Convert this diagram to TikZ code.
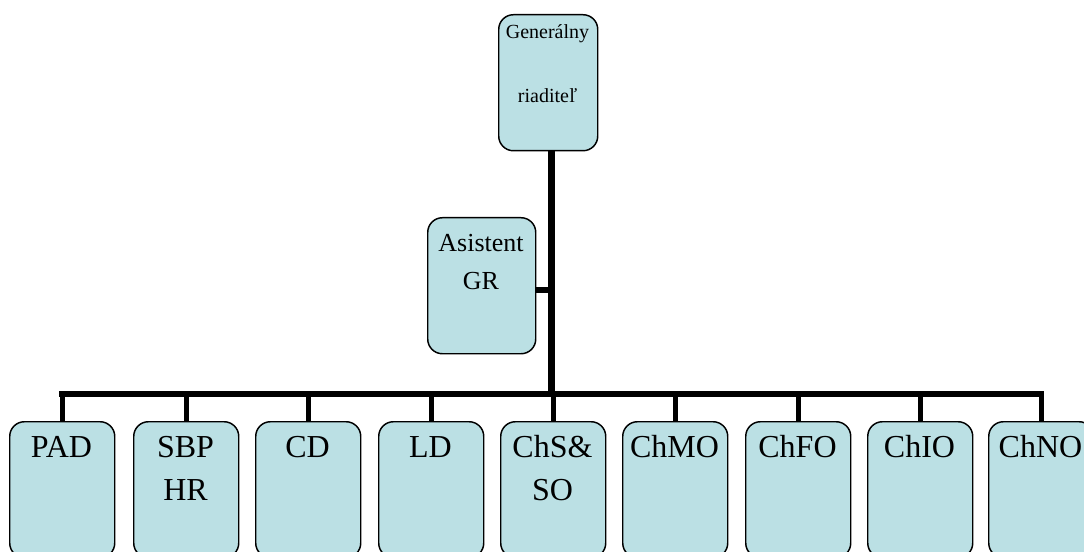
\documentclass[tikz,border=0pt]{standalone}
\usepackage{fontspec}
\setmainfont{Liberation Serif}
\definecolor{boxfill}{RGB}{187,224,228}
\begin{document}
\begin{tikzpicture}[x=0.75pt,y=-0.75pt,
  orgbox/.style={draw=black, line width=1.1pt, fill=boxfill,
    rounded corners=11pt, inner sep=0pt, anchor=north west,
    minimum height=102pt},
  topbox/.style={orgbox, minimum width=74.25pt},
  asbox/.style={orgbox, minimum width=81pt},
  unitbox/.style={orgbox, minimum width=78.75pt},
  toplbl/.style={inner sep=0pt, anchor=base, font=\fontsize{15}{18}\selectfont},
  aslbl/.style={inner sep=0pt, anchor=base, font=\fontsize{19.5}{23}\selectfont},
  unitlbl/.style={inner sep=0pt, anchor=base, font=\fontsize{24}{28}\selectfont},
  trunk/.style={line width=5.25pt},
  bar/.style={line width=4.5pt, line cap=rect},
  stem/.style={line width=3.75pt},
  sidearm/.style={line width=4.5pt}]
  \useasboundingbox (0,0) rectangle (1084,552);
  \clip (0,0) rectangle (1084,552);

  % junction points on the vertical trunk
  \coordinate (hub) at (551,394);
  \coordinate (aj) at (551,290);

  % head of the organisation
  \node[topbox] (gr) at (498,14) {};
  \node[toplbl] (grA) at (547.5,39) {Generálny};
  \node[toplbl] (grB) at (547.5,103) {riaditeľ};

  % assistant
  \node[asbox] (asis) at (427,217) {};
  \node[aslbl] (asA) at (481,252) {Asistent};
  \node[aslbl] (asB) at (481,289) {GR};

  % departments
  \node[unitbox] (pad)  at (9,421)   {};
  \node[unitbox] (sbp)  at (133,421) {};
  \node[unitbox] (cd)   at (255,421) {};
  \node[unitbox] (ld)   at (378,421) {};
  \node[unitbox] (chs)  at (500,421) {};
  \node[unitbox] (chmo) at (622,421) {};
  \node[unitbox] (chfo) at (745,421) {};
  \node[unitbox] (chio) at (867,421) {};
  \node[unitbox] (chno) at (988,421) {};

  \node[unitlbl] (padA)  at (61.5,457)   {PAD};
  \node[unitlbl] (sbpA)  at (185.5,457)  {SBP};
  \node[unitlbl] (sbpB)  at (185.5,500)  {HR};
  \node[unitlbl] (cdA)   at (307.5,457)  {CD};
  \node[unitlbl] (ldA)   at (430.5,457)  {LD};
  \node[unitlbl] (chsA)  at (552.5,457)  {ChS\&};
  \node[unitlbl] (chsB)  at (552.5,500)  {SO};
  \node[unitlbl] (chmoA) at (674.5,457)  {ChMO};
  \node[unitlbl] (chfoA) at (797.5,457)  {ChFO};
  \node[unitlbl] (chioA) at (919.5,457)  {ChIO};
  \node[unitlbl] (chnoA) at (1040.5,457) {ChNO};

  % connectors
  \draw[trunk] (gr.south -| hub) -- (hub);
  \draw[sidearm] (aj -| asis.east) -- (aj);
  \draw[bar] (pad.north |- hub) -- (chno.north |- hub);
  \foreach \u in {pad,sbp,cd,ld,chs,chmo,chfo,chio,chno}
    \draw[stem] (\u.north |- hub) -- (\u.north);
\end{tikzpicture}
\end{document}
